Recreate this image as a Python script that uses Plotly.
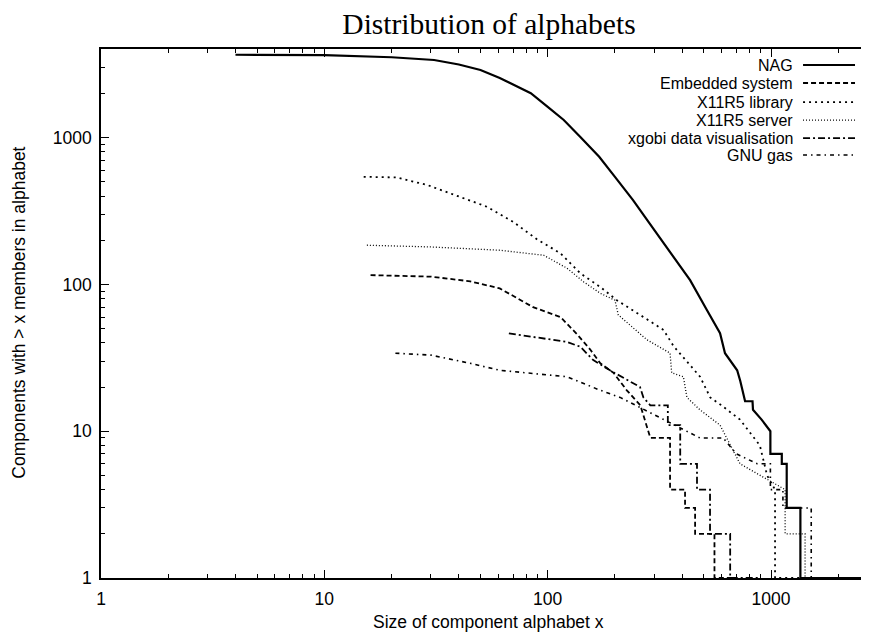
import plotly.graph_objects as go

# ---- data ----
nag_x = [4, 10, 20, 31, 40, 50, 61, 70, 84, 100, 118, 140, 170, 200, 241, 279, 342, 434, 516, 591, 622, 705, 728, 765, 826, 830, 907, 993, 993, 1117, 1117, 1175, 1175, 1353, 1353, 3000]
nag_y = [3670, 3650, 3530, 3380, 3150, 2890, 2550, 2300, 2010, 1620, 1320, 1010, 740, 540, 375, 274, 179, 107, 67, 46.5, 34, 26, 22, 16, 16, 14, 12, 10, 7, 7, 6, 6, 3, 3, 1, 1]

emb_x = [16.1, 30, 45, 61, 86, 114, 135, 155, 172, 197, 226, 260, 288, 353, 353, 412, 412, 457, 457, 558, 558, 700]
emb_y = [115.7, 113, 105, 94, 70, 60, 46, 36, 29, 25, 19, 15, 9, 9, 4, 4, 3, 3, 2, 2, 1, 1]

lib_x = [15, 21, 29, 42, 53.5, 70, 89.5, 114, 140, 172, 204, 268, 330, 366, 405, 481, 534, 600, 726, 760, 891, 960, 1042, 1042, 3000]
lib_y = [541, 536, 475, 386, 338, 267, 203, 163, 119, 96, 78, 60, 49, 38, 32, 23.5, 17, 15, 12, 11, 8, 5, 4, 1, 1]

srv_x = [15.5, 30, 61, 96, 122, 145, 172, 200, 207, 241, 278, 353, 359, 405, 420, 480, 591, 726, 1156, 1156, 1420, 1420, 3000]
srv_y = [185, 180, 171, 158, 129, 104, 87, 78, 62, 51, 42, 34, 25, 23.5, 17, 14, 11, 6, 4, 2, 2, 1, 1]

xg_x = [67, 122, 140, 160, 190, 259, 268, 288, 345, 345, 392, 392, 466, 466, 533, 533, 656, 656, 900]
xg_y = [46.4, 40.6, 37.6, 30.5, 26, 20, 17, 15, 15, 11, 11, 6, 6, 4, 4, 2, 2, 1, 1]

gnu_x = [20.8, 30, 45, 61, 122, 172, 211, 300, 480, 610, 700, 867, 993, 993, 1130, 1130, 1513, 1513, 3000]
gnu_y = [34, 33, 29, 26, 23.5, 19, 17, 13, 9, 9, 7, 6, 6, 4, 4, 3, 3, 1, 1]

names = ["NAG", "Embedded system", "X11R5 library", "X11R5 server",
         "xgobi data visualisation", "GNU gas"]

x_ticks = [1, 10, 100, 1000]
y_ticks = [1, 10, 100, 1000]

series = [(nag_x, nag_y), (emb_x, emb_y), (lib_x, lib_y), (srv_x, srv_y),
          (xg_x, xg_y), (gnu_x, gnu_y)]
dashes = ["solid", "5px,3px", "2px,4px", "1px,2px", "7px,3px,2px,3px",
          "4px,4px,1.5px,4px"]
widths = [2.2, 1.8, 1.8, 1.3, 1.8, 1.6]

# ---- geometry (page has an 8px body margin, so compensate) ----
OFF = 8
W, H = 869 - OFF, 636 - OFF
PL, PT, PB = 100.5, 49.0, 577.7          # page coords of plot left / top / bottom
L, T = PL - OFF, PT - OFF
B = H - (PB - OFF)
R = 0
pw = W - L - R
ph = H - T - B
DEC = 223.5                               # pixels per decade on x


def px2x(px):
    return (px - OFF - L) / pw


def py2y(py):
    return ((H - B) - (py - OFF)) / ph


fig = go.Figure()
for (xs, ys), nm, d, w in zip(series, names, dashes, widths):
    fig.add_trace(go.Scatter(x=xs, y=ys, mode="lines", name=nm,
                             line=dict(color="black", width=w, dash=d),
                             showlegend=False))

font_sans = "Liberation Sans, Arial, sans-serif"
FS = 17.5
FK = 16

fig.update_layout(
    width=W, height=H,
    margin=dict(l=L, r=R, t=T, b=B, autoexpand=False),
    paper_bgcolor="white", plot_bgcolor="white",
    showlegend=False,
    font=dict(family=font_sans, size=FS, color="black"),
    title=dict(text="Distribution of alphabets",
               font=dict(family="Liberation Serif, Times New Roman, serif", size=29.5, color="black"),
               xref="container", x=(489 - OFF) / W, xanchor="center",
               yref="container", y=1 - (24 - OFF) / H, yanchor="middle"),
)

fig.update_xaxes(type="log", range=[0, (869 - PL) / DEC],
                 tickvals=x_ticks, ticktext=[str(v) for v in x_ticks],
                 ticks="inside", ticklen=8, tickwidth=1, tickcolor="black",
                 showline=True, linecolor="black", linewidth=1.5, mirror="ticks",
                 showgrid=False, zeroline=False,
                 minor=dict(ticks="inside", ticklen=4, tickwidth=1, tickcolor="black",
                            dtick="D1", showgrid=False),
                 tickfont=dict(size=FS), ticklabelstandoff=4)
fig.update_yaxes(type="log", range=[0, (PB - PT) / 146.7],
                 tickvals=y_ticks, ticktext=[str(v) for v in y_ticks],
                 ticks="inside", ticklen=8, tickwidth=1, tickcolor="black",
                 showline=True, linecolor="black", linewidth=1.5, mirror=False,
                 showgrid=False, zeroline=False,
                 minor=dict(ticks="inside", ticklen=4, tickwidth=1, tickcolor="black",
                            dtick="D1", showgrid=False),
                 tickfont=dict(size=FS), ticklabelstandoff=4)

# axis titles
fig.add_annotation(text="Size of component alphabet x", xref="paper", yref="paper",
                   x=px2x(488), y=py2y(622), xanchor="center", yanchor="middle",
                   showarrow=False, font=dict(size=FS))
fig.add_annotation(text="Components with > x members in alphabet", xref="paper", yref="paper",
                   x=px2x(19), y=py2y(313), textangle=-90, xanchor="center", yanchor="middle",
                   showarrow=False, font=dict(size=FS))

# manual gnuplot-style key (text right, sample on the right)
rows = [65, 83, 102, 120, 138, 155]
for nm, d, w, ry in zip(names, dashes, widths, rows):
    yp = py2y(ry)
    fig.add_annotation(text=nm, xref="paper", yref="paper", x=px2x(794), y=yp,
                       xanchor="right", yanchor="middle", showarrow=False,
                       borderpad=0, font=dict(size=FK))
    fig.add_shape(type="line", xref="paper", yref="paper",
                  x0=px2x(803), x1=px2x(855), y0=yp, y1=yp,
                  line=dict(color="black", width=w, dash=d))

fig.write_html("out.html")
